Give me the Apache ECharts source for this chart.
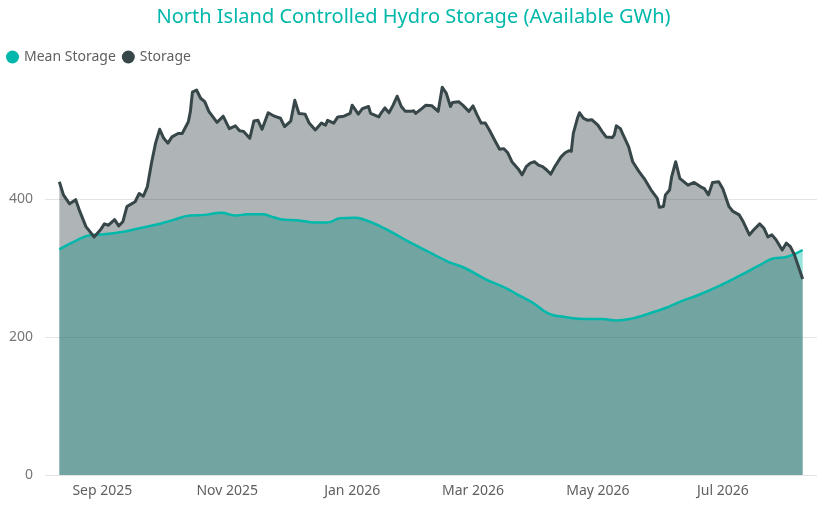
<!DOCTYPE html>
<html><head><meta charset="utf-8">
<script src="https://cdn.jsdelivr.net/npm/echarts@6/dist/echarts.min.js"></script>
<style>html,body{margin:0;padding:0;background:#fff}#c{width:827px;height:506px}</style>
</head><body><div id="c"></div>
<script>
const storageDates = ['2025-08-11','2025-08-13','2025-08-16','2025-08-19','2025-08-21','2025-08-24','2025-08-28','2025-08-31','2025-09-02','2025-09-04','2025-09-07','2025-09-09','2025-09-11','2025-09-13','2025-09-17','2025-09-19','2025-09-21','2025-09-23','2025-09-25','2025-09-27','2025-09-29','2025-10-01','2025-10-03','2025-10-05','2025-10-08','2025-10-10','2025-10-13','2025-10-14','2025-10-15','2025-10-17','2025-10-19','2025-10-21','2025-10-23','2025-10-27','2025-10-30','2025-11-02','2025-11-05','2025-11-07','2025-11-09','2025-11-12','2025-11-14','2025-11-16','2025-11-18','2025-11-21','2025-11-24','2025-11-27','2025-11-29','2025-12-02','2025-12-04','2025-12-06','2025-12-09','2025-12-11','2025-12-14','2025-12-17','2025-12-19','2025-12-20','2025-12-23','2025-12-25','2025-12-28','2025-12-31','2026-01-01','2026-01-04','2026-01-06','2026-01-09','2026-01-10','2026-01-14','2026-01-15','2026-01-17','2026-01-19','2026-01-21','2026-01-23','2026-01-25','2026-01-27','2026-01-30','2026-01-31','2026-02-01','2026-02-04','2026-02-06','2026-02-09','2026-02-12','2026-02-14','2026-02-16','2026-02-18','2026-02-19','2026-02-22','2026-02-24','2026-02-27','2026-03-01','2026-03-03','2026-03-05','2026-03-07','2026-03-09','2026-03-12','2026-03-14','2026-03-16','2026-03-18','2026-03-20','2026-03-23','2026-03-25','2026-03-27','2026-03-29','2026-03-31','2026-04-02','2026-04-04','2026-04-06','2026-04-08','2026-04-10','2026-04-13','2026-04-15','2026-04-17','2026-04-18','2026-04-19','2026-04-21','2026-04-22','2026-04-24','2026-04-26','2026-04-28','2026-05-01','2026-05-03','2026-05-05','2026-05-08','2026-05-09','2026-05-10','2026-05-12','2026-05-13','2026-05-16','2026-05-18','2026-05-21','2026-05-24','2026-05-27','2026-05-30','2026-05-31','2026-06-02','2026-06-03','2026-06-05','2026-06-06','2026-06-08','2026-06-10','2026-06-14','2026-06-17','2026-06-20','2026-06-22','2026-06-24','2026-06-26','2026-06-29','2026-07-01','2026-07-04','2026-07-06','2026-07-09','2026-07-11','2026-07-14','2026-07-16','2026-07-19','2026-07-21','2026-07-23','2026-07-25','2026-07-27','2026-07-30','2026-08-01','2026-08-03','2026-08-05','2026-08-09'];
const storageValues = [425,406,393,399,382,360,345,355,364,362,370,361,367,389,396,408,404,418,452,481,501,488,481,490,495,495,512,527,555,558,546,541,527,511,520,502,506,499,498,488,513,514,501,525,520,517,505,513,543,524,523,510,500,510,507,514,510,519,520,524,536,523,531,534,524,519,524,532,525,536,549,534,527,527,528,524,531,536,535,527,562,553,534,540,541,536,527,535,522,510,510,500,483,472,473,467,454,444,435,447,452,454,449,447,442,436,447,461,467,470,469,495,517,525,517,514,515,507,498,490,489,493,506,502,495,476,454,440,428,413,401,388,389,406,413,432,454,430,420,424,418,415,406,424,425,415,389,382,377,367,348,355,364,358,345,348,341,326,336,331,319,284];
const meanDates = ['2025-08-11','2025-08-18','2025-08-27','2025-09-02','2025-09-12','2025-09-18','2025-09-26','2025-10-05','2025-10-14','2025-10-21','2025-10-29','2025-11-05','2025-11-11','2025-11-18','2025-11-23','2025-11-29','2025-12-06','2025-12-14','2025-12-20','2025-12-26','2026-01-02','2026-01-07','2026-01-15','2026-01-22','2026-01-30','2026-02-09','2026-02-17','2026-02-25','2026-03-07','2026-03-17','2026-03-23','2026-03-30','2026-04-07','2026-04-15','2026-04-25','2026-05-03','2026-05-10','2026-05-18','2026-05-26','2026-06-03','2026-06-10','2026-06-20','2026-06-30','2026-07-10','2026-07-19','2026-07-26','2026-08-01','2026-08-09'];
const meanValues = [327,338,348,349,353,357,362,369,376,377,380,376,378,378,374,370,369,366,366,372,373,370,360,349,336,321,309,300,284,271,261,250,234,229,226,226,224,227,234,242,251,262,275,290,304,314,316,326];
const xLabelDates = ['2025-09-01','2025-11-01','2026-01-01','2026-03-01','2026-05-01','2026-07-01'];
const monthNames = ['Jan','Feb','Mar','Apr','May','Jun','Jul','Aug','Sep','Oct','Nov','Dec'];

const toTs = s => { const [y,m,d] = s.split('-').map(Number); return new Date(y, m-1, d).getTime(); };
const storageData = storageDates.map((d,i) => [toTs(d), storageValues[i]]);
const meanData = meanDates.map((d,i) => [toTs(d), meanValues[i]]);
const FONT = '"Noto Sans", "Open Sans", sans-serif';
const TEAL = '#01B8AA', DARK = '#374649';

const chart = echarts.init(document.getElementById('c'), null, {renderer:'canvas'});
chart.setOption({
  animation: false,
  backgroundColor: '#fff',
  title: {
    text: 'North Island Controlled Hydro Storage (Available GWh)',
    left: 'center', top: 2,
    textStyle: {color: TEAL, fontSize: 20, fontWeight: 'normal', fontFamily: FONT}
  },
  legend: {
    left: 1, top: 45, icon: 'circle', itemWidth: 13, itemHeight: 13, itemGap: 6,
    textStyle: {color: '#606060', fontSize: 14, fontFamily: FONT},
    data: [{name: 'Mean Storage', itemStyle: {color: TEAL}}, {name: 'Storage', itemStyle: {color: DARK}}]
  },
  grid: {left: 45, right: 10, top: 61, bottom: 31, containLabel: false},
  xAxis: {
    type: 'value',
    min: toTs('2025-08-04'), max: toTs('2026-08-16'),
    axisLine: {show: false}, axisTick: {show: false}, splitLine: {show: false},
    axisLabel: {
      customValues: xLabelDates.map(toTs),
      color: '#606060', fontSize: 14, fontFamily: FONT, margin: 9,
      formatter: v => { const d = new Date(v); return monthNames[d.getMonth()] + ' ' + d.getFullYear(); }
    }
  },
  yAxis: {
    type: 'value', min: 0, max: 600, interval: 200,
    axisLine: {show: false}, axisTick: {show: false},
    axisLabel: {color: '#777', fontSize: 14, fontFamily: FONT, margin: 12,
      formatter: v => v > 400 ? '' : String(v)},
    splitLine: {lineStyle: {color: ['#e4e4e4','#e4e4e4','#e4e4e4','rgba(0,0,0,0)'], width: 1}}
  },
  series: [
    {name: 'Mean Storage', type: 'line', data: meanData, smooth: true, showSymbol: false, silent: true,
     lineStyle: {width: 0}, itemStyle: {color: TEAL}, areaStyle: {color: TEAL, opacity: 0.4}, z: 1},
    {name: 'Storage', type: 'line', data: storageData, showSymbol: false, silent: true,
     lineStyle: {width: 0}, itemStyle: {color: DARK}, areaStyle: {color: DARK, opacity: 0.4}, z: 2},
    {name: 'Mean Storage', type: 'line', data: meanData, smooth: true, showSymbol: false,
     lineStyle: {width: 2.5, color: TEAL}, itemStyle: {color: TEAL}, z: 3},
    {name: 'Storage', type: 'line', data: storageData, showSymbol: false,
     lineStyle: {width: 3, color: DARK, join: 'round'}, itemStyle: {color: DARK}, z: 4}
  ]
});
</script>
</body></html>
